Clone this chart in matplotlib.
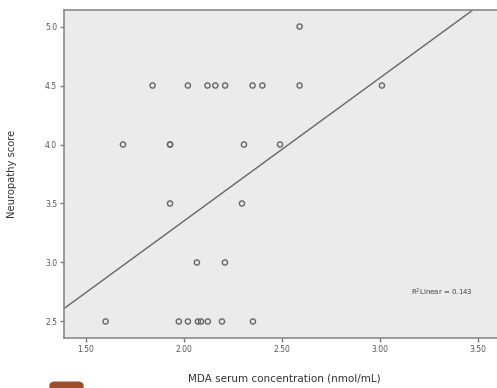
import numpy as np
import matplotlib
matplotlib.use("Agg")
import matplotlib.pyplot as plt
from matplotlib.patches import FancyBboxPatch

# MDA serum concentration (nmol/mL) vs neuropathy score
mda = [1.60, 1.974, 2.02, 2.071, 2.087, 2.122, 2.194, 2.352,
       2.066, 2.209,
       1.929, 2.296,
       1.689, 1.929, 1.929, 2.306, 2.49,
       1.84, 2.02, 2.12, 2.16, 2.21, 2.35, 2.40, 2.59, 3.01,
       2.59]
score = [2.5] * 8 + [3.0] * 2 + [3.5] * 2 + [4.0] * 5 + [4.5] * 9 + [5.0]

# linear fit as reported in the figure
fit_slope = 1.213
fit_intercept = 0.926
r2_label = "R$^2$Linear = 0.143"

x_ticks = [1.5, 2.0, 2.5, 3.0, 3.5]
y_ticks = [2.5, 3.0, 3.5, 4.0, 4.5, 5.0]

fig = plt.figure(figsize=(4.97, 3.88), dpi=100)
# the right edge of the frame is cropped off in the original screenshot
ax = fig.add_axes([64 / 497, 50 / 388, 441 / 497, 328 / 388])
ax.set_facecolor("#ebebeb")

ax.scatter(mda, score, s=14, facecolors="none", edgecolors="#666666",
           linewidths=1.0, zorder=3)

xlim = (1.388, 3.638)
xs = np.array(xlim)
ax.plot(xs, fit_intercept + fit_slope * xs, color="#666666", lw=1.0, zorder=2)

ax.set_xlim(*xlim)
ax.set_ylim(2.36, 5.14)
ax.set_xticks(x_ticks)
ax.set_xticklabels([f"{v:.2f}" for v in x_ticks])
ax.set_yticks(y_ticks)
ax.set_yticklabels([f"{v:.1f}" for v in y_ticks])

for s in ax.spines.values():
    s.set_color("#8a8a8a")
    s.set_linewidth(1.2)
ax.tick_params(direction="out", length=3, width=1, color="#777777",
               labelsize=5.5, labelcolor="#555555", pad=2)

ax.set_xlabel("MDA serum concentration (nmol/mL)", fontsize=7.5, color="#333333", labelpad=14)
ax.set_ylabel("Neuropathy score", fontsize=7.2, color="#333333", labelpad=20)

ax.text(3.158, 2.746, r2_label, fontsize=5, color="#444444",
        va="center", ha="left")

# brown tab cut off at the bottom of the screenshot
fig.patches.append(FancyBboxPatch((50 / 497, -0.02), 33 / 497, 0.035,
                                  boxstyle="round,pad=0,rounding_size=0.01",
                                  transform=fig.transFigure, color="#9c4f2a",
                                  figure=fig))

fig.savefig("out.png", dpi=100)
